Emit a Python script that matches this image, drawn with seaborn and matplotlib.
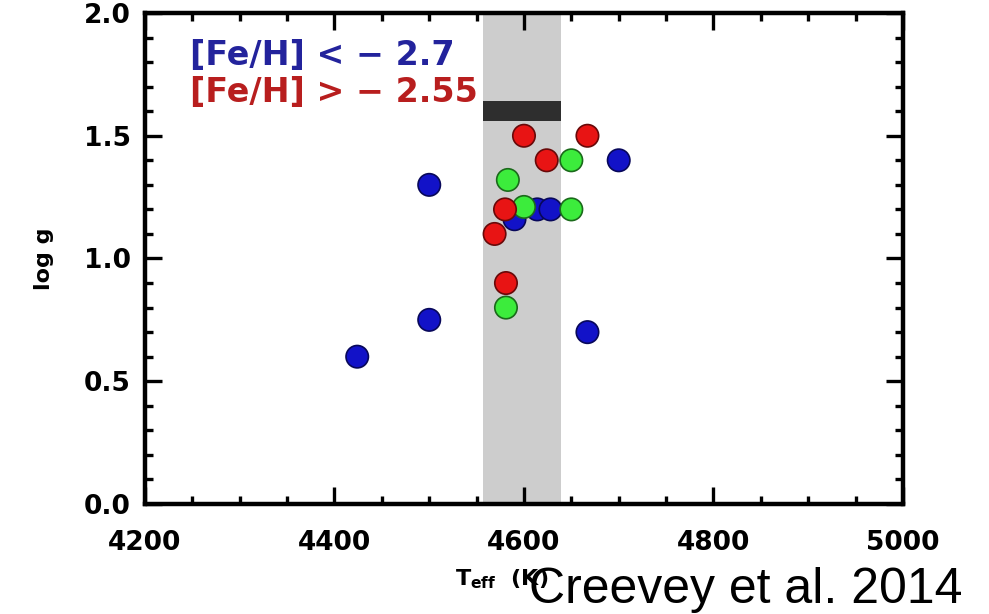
import numpy as np
import pandas as pd
import matplotlib
matplotlib.use("Agg")
import matplotlib.pyplot as plt
from matplotlib.ticker import MultipleLocator
import seaborn as sns

# ---- data ----
teff = [4590, 4424, 4500, 4500, 4667, 4700, 4614, 4628,
        4583, 4600, 4650, 4650, 4581,
        4600, 4667, 4624, 4580, 4569, 4581]
logg = [1.16, 0.60, 0.75, 1.30, 0.70, 1.40, 1.20, 1.20,
        1.32, 1.21, 1.40, 1.20, 0.80,
        1.50, 1.50, 1.40, 1.20, 1.10, 0.90]
group = ["low", "low", "low", "low", "low", "low", "low", "low",
         "mid", "mid", "mid", "mid", "mid",
         "high", "high", "high", "high", "high", "high"]
band_teff = [4557, 4639]
bar_logg = [1.56, 1.64]
xticks = [4200, 4400, 4600, 4800, 5000]
yticks = [0.0, 0.5, 1.0, 1.5, 2.0]
legend_labels = ["[Fe/H] < \u2212 2.7", "[Fe/H] > \u2212 2.55"]

df = pd.DataFrame({"teff": teff, "logg": logg, "group": group})
palette = {"low": "#1212c8", "mid": "#3cec3c", "high": "#e81414"}

sns.set_theme(style="white")
plt.rcParams["font.family"] = ["DejaVu Sans"]
plt.rcParams["text.color"] = "black"
plt.rcParams["axes.labelcolor"] = "black"

fig = plt.figure(figsize=(9.89, 6.14), dpi=100)
ax = fig.add_axes([0.1466, 0.1792, 0.913 - 0.1466, 0.9788 - 0.1792])

ax.axvspan(band_teff[0], band_teff[1], color="#cdcdcd", lw=0, zorder=0)
ax.fill_between(band_teff, bar_logg[0], bar_logg[1], color="#2e2e2e", lw=0, zorder=1)

sns.scatterplot(data=df, x="teff", y="logg", hue="group", palette=palette,
                s=260, linewidth=1.2, legend=False, ax=ax, zorder=3)
coll = ax.collections[-1]
fc = np.array(coll.get_facecolors())
ec = fc.copy()
ec[:, :3] = fc[:, :3] * 0.45
coll.set_edgecolors(ec)

ax.set_xlim(4200, 5000)
ax.set_ylim(0, 2.0)
ax.set_xticks(xticks)
ax.set_yticks(yticks)
ax.set_xticklabels([str(t) for t in xticks])
ax.set_yticklabels([f"{t:.1f}" for t in yticks])
ax.xaxis.set_minor_locator(MultipleLocator(50))
ax.yaxis.set_minor_locator(MultipleLocator(0.1))
ax.tick_params(which="both", direction="in", top=True, right=True,
               bottom=True, left=True, color="black", labelcolor="black")
ax.tick_params(which="major", length=12, width=2.4, labelsize=19)
ax.tick_params(axis="x", which="major", pad=19)
ax.tick_params(axis="y", which="major", pad=10)
ax.tick_params(which="minor", length=6, width=2.4)
for lab in ax.get_xticklabels() + ax.get_yticklabels():
    lab.set_fontweight("bold")
for sp in ax.spines.values():
    sp.set_visible(True)
    sp.set_color("black")
    sp.set_linewidth(3.2)

ax.set_xlabel(r"T$_{\mathbf{eff}}$  (K)", fontsize=16, fontweight="bold", va="top")
ax.xaxis.set_label_coords(0.47, -0.13)
ax.set_ylabel("log g", fontsize=16, fontweight="bold")
ax.yaxis.set_label_coords(-0.12, 0.5)

ax.text(0.059, 0.914, legend_labels[0], transform=ax.transAxes, color="#23239c",
        fontsize=24, fontweight="bold", va="center", ha="left")
ax.text(0.059, 0.839, legend_labels[1], transform=ax.transAxes, color="#b81e1e",
        fontsize=24, fontweight="bold", va="center", ha="left")

fig.text(0.973, 0.018, "Creevey et al. 2014", ha="right", va="baseline",
         fontsize=36, family=["Liberation Sans Narrow", "Liberation Sans"], color="black")

fig.savefig("out.png", dpi=100, facecolor="white")
